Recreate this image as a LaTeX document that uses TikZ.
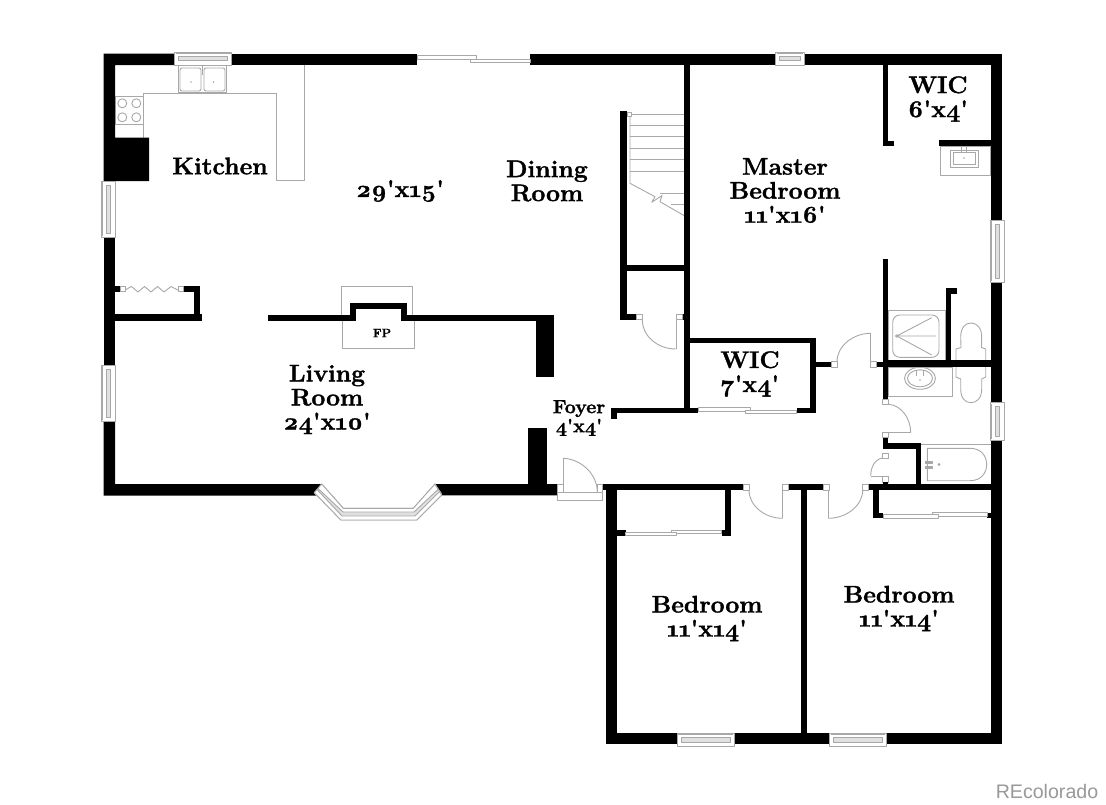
\documentclass[tikz,border=0pt]{standalone}
\usepackage{fontspec}
\newfontfamily\labfont[Numbers=OldStyle,FakeStretch=1.03,FakeBold=1.4]{Latin Modern Roman}
\newfontfamily\markfont{Liberation Sans}
\usetikzlibrary{calc}
\definecolor{fix}{HTML}{A8A8A8}
\tikzset{
  x=1pt,y=-1pt,
  fixture/.style={draw=fix,line width=0.9pt,line join=round},
  roomlabel/.style={font=\labfont\bfseries\fontsize{24}{24}\selectfont,text=black,inner sep=0pt,align=center,anchor=center},
  foyerlabel/.style={font=\labfont\bfseries\fontsize{19}{19}\selectfont,text=black,inner sep=0pt,align=center,anchor=center},
}
\newcommand{\wall}[4]{\fill[black] (#1,#2) rectangle (#3,#4);}
\newcommand{\sq}[4]{\draw[fixture,fill=white] (#1,#2) rectangle (#3,#4);}
% door swing: starts vertically, ends horizontally
\newcommand{\qarc}[4]{\draw[fixture] (#1,#2) .. controls ({#1},{#2+.55*(#4-#2)}) and ({#3-.55*(#3-#1)},{#4}) .. (#3,#4);}
\newcommand{\hwin}[4]{\draw[fixture,fill=white] (#1,#2) rectangle (#3,#4);
  \draw[fixture,fill=black!12] ({#1+4},{(#2+#4)/2-2.2}) rectangle ({#3-4},{(#2+#4)/2+2.2});
  \draw[fixture] ({#1+1},{#2+1}) -- ({#3-1},{#2+1});}
\newcommand{\vwin}[4]{\draw[fixture,fill=white] (#1,#2) rectangle (#3,#4);
  \draw[fixture,fill=black!12] ({(#1+#3)/2-2.2},{#2+4}) rectangle ({(#1+#3)/2+2.2},{#4-4});
  \draw[fixture] ({#1+1},{#2+1}) -- ({#1+1},{#4-1});}
\begin{document}
\begin{tikzpicture}
\useasboundingbox (0,0) rectangle (1106,804);
\fill[white] (0,0) rectangle (1106,804);
% ---- fixtures under walls
% kitchen counter
\draw[fixture] (143.3,137.7) -- (143.3,93.3) -- (276,93.3) -- (276,180) -- (304.3,180) -- (304.3,65);
\draw[fixture,fill=white] (115,96) rectangle (143.3,124.3);
\foreach \cx/\cy in {122.3/103.3,136.3/103.3,122.3/117.3,136.3/117.3}{\draw[fixture] (\cx,\cy) circle[radius=4.5];}
\draw[fixture,fill=white] (178.3,65) rectangle (226.7,92.7);
\draw[fixture,rounded corners=2pt] (180,68) rectangle (201,91);
\draw[fixture,rounded corners=2pt] (204,68) rectangle (225,91);
\draw[fixture] (202.5,65) -- (202.5,75);
\fill[fix] (191,82) circle[radius=.8]; \fill[fix] (213.5,82) circle[radius=.8];
% fireplace
\draw[fixture] (341,314.5) -- (341,286) -- (412.3,286) -- (412.3,314.5);
\draw[fixture] (342.7,320) -- (342.7,348.3) -- (414,348.3) -- (414,320);
% stairs
\foreach \yy in {114,125.7,136.7,148.3,159.3,171}{\draw[fixture] (630,\yy) -- (684.3,\yy);}
\draw[fixture] (630,114) -- (630,183.3) -- (655,196.7) -- (651.7,202.3) -- (662,195.5) -- (660,201.7) -- (684.3,215.7);
\draw[fixture] (660,193.3) -- (684.3,193.3);
\draw[fixture] (671,204.3) -- (684.3,204.3);
\sq{627}{112.5}{631}{116.5}
% master vanity
\draw[fixture] (940,146) rectangle (990.7,175);
\draw[fixture] (950,150) rectangle (978.3,167);
\draw[fixture] (953,152) rectangle (975,164);
\draw[fixture] (961,147) -- (961,153); \draw[fixture] (966,147) -- (966,153);
\fill[fix] (964,158) circle[radius=.9];
% shower
\draw[fixture] (888.3,310.7) rectangle (945.7,361);
\draw[fixture,rounded corners=7pt] (892.7,315) rectangle (939,357.3);
\draw[fixture] (931.7,317.7) -- (896.7,336) -- (936,336);
\draw[fixture] (896.7,336) -- (931.7,355);
\draw[fixture] (896.7,336) circle[radius=1.3];
% bath vanity
\draw[fixture] (888.3,367) rectangle (952.7,396);
\draw[fixture] (920,378.3) ellipse[x radius=15.5,y radius=11];
\draw[fixture] (920,378.3) ellipse[x radius=12.5,y radius=8.5];
\draw[fixture] (916.5,370) -- (916.5,376); \draw[fixture] (923,370) -- (923,376);
\fill[fix] (920,380) circle[radius=.8];
% toilets
\draw[fixture] (956,361) -- (956,349) -- (961,347.5) -- (960.7,337) .. controls (960.7,328) and (965,323) .. (971,323) .. controls (977,323) and (981.7,328) .. (981.7,337) -- (981.5,347.5) -- (985.7,349) -- (985.7,361);
\draw[fixture] (956,367) -- (956,377) -- (960.7,379) -- (960.7,389) .. controls (960.7,398) and (965,402.7) .. (971,402.7) .. controls (977,402.7) and (981.7,398) .. (981.7,389) -- (981.7,379) -- (985.7,377) -- (985.7,367);
% tub
\draw[fixture] (921,444) -- (990.7,444);
\draw[fixture] (927.3,448.3) -- (970,448.3) .. controls (981,448.3) and (986.7,456) .. (986.7,464.5) .. controls (986.7,473) and (981,480.7) .. (970,480.7) -- (927.3,480.7) -- cycle;
\draw[fixture,fill=fix] (925,461) rectangle (932,463);
\draw[fixture,fill=fix] (925,466) rectangle (932,468);
\draw[fixture] (939,464.5) circle[radius=1];
% bifold
\draw[fixture] (125,290) -- (131.5,286.5) -- (138,292) -- (144.5,286.5) -- (151,292) -- (157.5,286.5) -- (164,292) -- (171,286.5) -- (178,290);
% ---- walls
\fill[black] (103.5,53.5) -- (174.5,53.5) -- (174.5,65) -- (115,65) -- (115,137.7) -- (149,137.7) -- (149,181) -- (103.5,181) -- cycle;
\wall{231.7}{53.5}{417.3}{65}
\wall{530}{53.5}{775.5}{65}
\wall{804}{53.5}{1002}{65}
\wall{103.5}{237.3}{115}{365}
\fill[black] (103.5,421) -- (115,421) -- (115,484) -- (321.7,484) -- (314.3,492.7) -- (316,495.7) -- (103.5,495.7) -- cycle;
\fill[black] (435,484) -- (557.3,484) -- (557.3,495.4) -- (441,495.4) -- (441.7,493) -- cycle;
\wall{527.7}{427.7}{546.7}{484}
% kitchen closet
\wall{115}{286}{120}{292}
\wall{183}{286}{200}{292}
\wall{194.3}{286}{200}{320}
\wall{115}{314.3}{202.3}{320.7}
\sq{120}{286.5}{125}{291.5}
\sq{178}{286.5}{183}{291.5}
% fireplace wall
\wall{267.7}{314.5}{355.7}{320.5}
\wall{350}{303.3}{355.7}{320.5}
\wall{350}{303.3}{406.7}{309.3}
\wall{401}{303.3}{406.7}{320.5}
\wall{401}{314.5}{554.3}{320.5}
\wall{535.5}{314.5}{554.3}{376.7}
% stair/closet
\wall{620.3}{111.3}{626.7}{320}
\wall{626}{265.3}{684.3}{270.7}
\wall{620.3}{314.3}{636.7}{320}
\wall{682}{314.3}{684.3}{320}
\sq{636.7}{314.8}{642}{319.8}
\sq{676}{314.8}{682}{319.8}
\draw[fixture] (676,320) -- (676,349);
\qarc{642.3}{320}{676}{349}
\wall{684.3}{65}{690}{413}
% WIC 7x4
\wall{690}{337.7}{815.7}{343.3}
\wall{810}{337.7}{815.7}{413.3}
\wall{611}{407.7}{698.3}{413.3}
\wall{611}{407.7}{616.7}{419.3}
\wall{796.7}{407.7}{815.7}{413.3}
\draw[fixture,fill=white] (698.3,407.7) rectangle (750.7,411);
\draw[fixture,fill=white] (745,410.5) rectangle (796.7,413.6);
% master WIC
\wall{882.7}{65}{888.3}{146}
\wall{882.7}{141}{894}{146}
\wall{939.3}{140}{990.7}{146}
\wall{990.7}{53.5}{1002}{220}
\wall{990.7}{282.3}{1002}{402.7}
\wall{990.7}{440}{1002.3}{744.3}
\vwin{990.7}{220}{1004}{282.3}
\vwin{990.7}{402.7}{1004}{440}
% bath
\wall{882.7}{259}{888.3}{399.3}
\wall{945.7}{288}{951}{361}
\wall{945.7}{288}{956.7}{293.7}
\wall{876.7}{361.5}{888.3}{367}
\wall{888}{360}{990.7}{367.3}
\wall{815.7}{361.7}{831.7}{367}
\sq{831.7}{361.7}{837}{367}
\sq{870.7}{361.7}{876.7}{367}
\draw[fixture] (870.7,361.7) -- (870.7,333.3);
\draw[fixture] (837,361.7) .. controls (837,346) and (853,333.3) .. (870.7,333.3);
% bath door
\sq{882.7}{399.3}{888.3}{404.3}
\sq{882.7}{432.7}{888.3}{437.7}
\draw[fixture] (888.3,432.7) -- (910.7,432.7);
\draw[fixture] (888.3,404.3) .. controls (901,405) and (910.7,418) .. (910.7,432.7);
\wall{882.7}{437.7}{888.3}{448.7}
\wall{882.7}{443.3}{921}{448.7}
\wall{915.7}{443.3}{921}{487}
% linen closet door
\sq{882.7}{453}{888}{458}
\sq{882.7}{476.7}{888}{482}
\draw[fixture] (882.7,476) -- (870.7,476);
\draw[fixture] (882.7,458) .. controls (875,459) and (870.7,467) .. (870.7,476);
\wall{882.7}{482}{888}{487}
\wall{868.3}{484}{990.7}{490}
% right bedroom closet
\wall{873.3}{490}{879.3}{518.3}
\wall{873.3}{512.7}{883.3}{518.3}
\wall{987.3}{512.7}{990.7}{518.3}
\draw[fixture,fill=white] (932.7,512.5) rectangle (987.3,516);
\draw[fixture,fill=white] (883.3,514.5) rectangle (938.3,518.3);
% bedroom doors
\sq{862.7}{484.3}{868.3}{490}
\sq{823.3}{484.3}{829}{490}
\draw[fixture] (828.3,490) -- (828.3,518.3);
\draw[fixture] (828.3,518.3) .. controls (846,518.3) and (862.7,506) .. (862.7,490);
\wall{788.3}{484.3}{823.3}{490}
\sq{743.3}{484.3}{749}{490}
\sq{782.7}{484.3}{788.3}{490}
\draw[fixture] (782.7,490) -- (782.7,518.3);
\draw[fixture] (749,490) .. controls (749,506) and (765,518.3) .. (782.7,518.3);
\wall{602.7}{484.3}{743.3}{490}
\wall{605.7}{490}{616.7}{744.3}
\wall{801}{490}{806.7}{733.3}
\wall{605.7}{733.3}{677.3}{744.3}
\wall{734}{733.3}{829.7}{744.3}
\wall{886.3}{733.3}{1002.3}{744.3}
% left bedroom closet
\wall{725}{490}{731}{535.7}
\wall{721.7}{530}{731}{535.7}
\wall{616.7}{530}{625.7}{535.7}
\draw[fixture,fill=white] (671,530) rectangle (721.7,533.7);
\draw[fixture,fill=white] (625.7,532) rectangle (676.7,535.7);
% windows
\hwin{174.5}{52}{231.7}{65}
\hwin{775.5}{52}{804}{65}
\vwin{101.7}{181}{115}{237.3}
\vwin{101.7}{365}{115}{421}
\hwin{677.3}{733.3}{734}{746.7}
\hwin{829.7}{733.3}{886.3}{746.7}
% slider top
\draw[fixture,fill=white] (417.3,55.7) rectangle (476.7,59.3);
\draw[fixture,fill=white] (470.7,59.3) rectangle (530,62.7);
% bay window
\draw[fixture,fill=black!12] (314.3,492.7) -- (341,520) -- (416.7,520) -- (441.7,495) -- (435,484) -- (413.3,508.3) -- (343.3,508.3) -- (321.7,484) -- cycle;
\draw[fixture,fill=white] (318,488.5) -- (343,512) -- (414,512) -- (438,489.5) -- (435,484) -- (413.3,508.3) -- (343.3,508.3) -- (321.7,484) -- cycle;
\draw[fixture,fill=white] (314.3,492.7) -- (341,520) -- (416.7,520) -- (441.7,495) -- (439.5,491.5) -- (415,516) -- (342,516) -- (317,489.5) -- cycle;
% foyer door
\draw[fixture,fill=white] (557.7,492.7) rectangle (602.7,500.7);
\sq{557.7}{484.5}{563.3}{492.7}
\sq{597.3}{484.5}{602.7}{492.7}
\draw[fixture] (563.3,492.7) -- (563.3,458.3);
\draw[fixture] (563.3,458.3) .. controls (581,459) and (597.3,474) .. (597.3,492);
% ---- labels
\node[roomlabel] (kitchen) at (220,166) {Kitchen};
\node[roomlabel] (open) at (400,191) {29'x15'};
\node[roomlabel] (dining) at (547,181) {Dining\\Room};
\node[roomlabel] (master) at (785,190.5) {Master\\Bedroom\\11'x16'};
\node[roomlabel] (wicb) at (938,99) {WIC\\6'x4'};
\node[roomlabel] (living) at (327,399.5) {Living\\Room\\24'x10'};
\node[foyerlabel] (foyer) at (579,418) {Foyer\\4'x4'};
\node[roomlabel] (wica) at (750,374) {WIC\\7'x4'};
\node[roomlabel] (beda) at (707,618.5) {Bedroom\\11'x14'};
\node[roomlabel] (bedb) at (899,608.5) {Bedroom\\11'x14'};
\node[font=\labfont\bfseries\fontsize{12}{12}\selectfont,inner sep=0pt] (fp) at (382,333) {FP};
\node[font=\markfont\fontsize{19.6}{19.6}\selectfont,text=black!40,inner sep=0pt] (mark) at (1047,791) {REcolorado};
\end{tikzpicture}
\end{document}
